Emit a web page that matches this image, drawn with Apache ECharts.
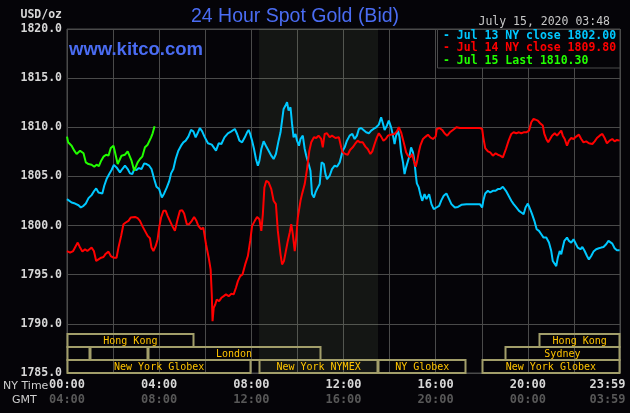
<!DOCTYPE html>
<html><head><meta charset="utf-8">
<script src="https://cdn.jsdelivr.net/npm/echarts@6.0.0/dist/echarts.min.js"></script>
<style>html,body{margin:0;padding:0;background:#050408;}#c{width:630px;height:413px;}</style>
</head><body><div id="c"></div>
<script>
// [minutes since 00:00 NY time, price]
const jul13 = [[0,1802.69],[5,1802.86],[12,1802.35],[21,1802.24],[30,1802.07],[36,1801.84],[43,1802.01],[49,1802.24],[56,1802.79],[64,1803.10],[71,1803.54],[76,1803.78],[82,1803.37],[87,1803.54],[92,1803.27],[97,1804.05],[103,1804.73],[110,1805.24],[116,1805.65],[122,1806.16],[129,1805.92],[138,1805.41],[144,1805.75],[151,1806.09],[158,1805.75],[164,1805.31],[170,1805.24],[175,1805.75],[181,1805.65],[187,1805.85],[194,1805.75],[201,1806.33],[207,1806.26],[214,1806.09],[220,1805.75],[227,1804.73],[233,1803.95],[240,1803.71],[247,1802.86],[253,1803.27],[260,1803.88],[266,1804.49],[271,1805.31],[277,1805.75],[283,1806.77],[290,1807.62],[297,1808.13],[303,1808.47],[309,1808.64],[316,1809.05],[323,1809.73],[329,1809.59],[335,1808.98],[340,1809.39],[346,1809.93],[352,1809.59],[358,1809.05],
[367,1808.37],[377,1808.23],[388,1807.62],[395,1808.37],[402,1808.30],[410,1808.98],[419,1809.39],[428,1809.59],[437,1809.83],[443,1809.32],[449,1808.64],[456,1808.47],[463,1808.98],[469,1809.49],[473,1809.73],[477,1809.32],[482,1808.64],[487,1807.79],[492,1806.77],[497,1806.09],[501,1806.60],[506,1807.79],[512,1808.57],[518,1808.13],[525,1807.62],[532,1807.11],[538,1806.77],[544,1807.28],[551,1808.64],[556,1809.49],[560,1810.68],[564,1811.87],[569,1812.21],[573,1812.55],[577,1811.70],[582,1812.04],[586,1810.34],[590,1808.98],[595,1809.32],[599,1808.64],[604,1808.13],[608,1808.81],[614,1809.15],[619,1807.79],[623,1807.11],[628,1806.43],[634,1805.58],[638,1803.20],[643,1802.86],[647,1803.37],[651,1803.71],[658,1804.22],[663,1806.43],[669,1806.26],[673,1805.24],[677,1804.73],[684,1805.07],[690,1805.75],[697,1806.09],[703,1805.99],[710,1806.43],
[718,1807.62],[723,1807.96],[729,1808.64],[736,1809.15],[743,1809.32],[749,1808.81],[755,1809.15],[760,1809.83],[766,1809.93],[772,1809.73],[779,1809.49],[786,1809.39],[792,1809.66],[798,1809.83],[805,1810.00],[812,1810.27],[818,1811.02],[823,1810.34],[827,1809.73],[833,1810.17],[838,1810.68],[844,1810.00],[849,1809.15],[853,1808.30],[857,1809.15],[862,1809.66],[866,1808.98],[870,1807.45],[875,1806.43],[879,1805.24],[883,1805.92],[888,1806.60],[892,1807.11],[896,1807.96],[901,1807.45],[905,1806.43],[908,1805.24],[911,1804.29],[916,1803.88],[920,1803.20],[925,1802.52],[931,1803.20],[936,1802.69],[943,1803.20],[949,1802.18],[955,1801.67],[962,1801.84],[969,1802.01],[975,1802.59],[981,1803.03],[988,1803.27],[995,1802.69],[1001,1802.18],[1010,1801.84],[1018,1801.90],[1027,1802.11],[1040,1802.18],[1057,1802.18],[1075,1802.18],
[1081,1801.84],[1084,1802.52],[1089,1803.27],[1096,1803.54],[1102,1803.37],[1109,1803.54],[1116,1803.54],[1122,1803.71],[1128,1803.71],[1135,1803.95],[1139,1804.05],[1143,1803.54],[1150,1803.03],[1157,1802.52],[1163,1802.18],[1170,1801.84],[1177,1801.50],[1183,1801.33],[1189,1801.16],[1194,1801.84],[1200,1802.24],[1206,1801.67],[1211,1801.16],[1217,1800.48],[1223,1799.63],[1229,1799.46],[1235,1799.12],[1241,1798.78],[1248,1798.78],[1255,1798.27],[1261,1797.41],[1265,1796.39],[1270,1796.22],[1274,1795.88],[1278,1796.73],[1283,1797.41],[1287,1797.07],[1291,1797.76],[1295,1798.44],[1302,1798.78],[1307,1798.44],[1313,1798.27],[1319,1798.61],[1324,1798.44],[1330,1797.76],[1337,1797.59],[1342,1797.82],[1348,1797.41],[1354,1796.90],[1359,1796.56],[1365,1796.90],[1371,1797.35],[1378,1797.59],[1385,1797.69],[1391,1797.76],[1397,1797.82],[1404,1798.10],[1410,1798.44],[1414,1798.50],[1420,1798.16],[1426,1797.69],[1432,1797.48],[1439,1797.48]];

const jul14 = [[0,1797.41],[8,1797.24],[16,1797.41],[23,1797.93],[28,1798.27],[34,1797.76],[40,1797.35],[47,1797.59],[53,1797.41],[58,1797.59],[64,1797.76],[70,1797.41],[76,1796.39],[82,1796.56],[89,1796.73],[95,1796.80],[101,1797.14],[108,1797.35],[114,1796.90],[121,1796.73],[129,1796.73],[134,1797.76],[141,1798.95],[147,1800.14],[153,1800.31],[160,1800.48],[166,1800.82],[170,1800.99],[177,1800.88],[184,1800.75],[190,1800.48],[196,1799.97],[203,1799.46],[210,1798.95],[216,1798.71],[220,1797.76],[225,1797.41],[231,1797.93],[236,1798.61],[240,1799.80],[245,1800.82],[251,1801.50],[257,1801.50],[262,1800.99],[268,1800.48],[274,1799.97],[281,1799.46],[288,1800.65],[294,1801.50],[300,1801.56],[305,1801.22],[312,1800.14],[318,1800.14],[325,1800.48],[331,1800.88],[337,1800.48],[342,1799.97],[349,1799.63],[355,1799.80],
[362,1798.10],[369,1796.73],[374,1795.54],[377,1793.00],[379,1790.27],[382,1791.63],[386,1791.97],[390,1792.48],[396,1792.31],[402,1792.65],[408,1792.82],[414,1793.00],[421,1792.82],[428,1793.06],[434,1793.00],[440,1793.67],[445,1794.35],[451,1794.86],[457,1795.03],[464,1796.05],[471,1796.90],[477,1798.44],[482,1799.97],[489,1800.48],[495,1800.88],[501,1800.65],[506,1799.46],[510,1801.16],[514,1803.88],[519,1804.56],[525,1804.39],[532,1803.71],[538,1802.52],[544,1802.18],[549,1799.46],[556,1797.07],[560,1796.05],[565,1796.39],[570,1796.22],[575,1798.44],[580,1799.29],[584,1800.14],[588,1799.12],[593,1797.41],[597,1798.78],[601,1800.82],[608,1802.52],[612,1803.20],[619,1804.22],[625,1805.75],[631,1807.62],[636,1808.47],[643,1808.98],[649,1808.91],[655,1809.15],[662,1808.81],[666,1807.96],[671,1809.32],[677,1809.39],[684,1808.98],[690,1809.15],[699,1808.91],[708,1808.98],
[714,1807.96],[718,1807.45],[725,1807.28],[731,1807.21],[737,1807.69],[744,1807.96],[750,1808.30],[757,1808.64],[763,1808.47],[770,1808.47],[777,1808.03],[783,1807.79],[790,1807.28],[795,1807.55],[801,1808.30],[807,1808.98],[812,1809.39],[818,1809.05],[824,1808.64],[830,1808.81],[836,1809.15],[842,1809.25],[847,1809.32],[853,1809.32],[859,1809.59],[864,1810.00],[870,1809.49],[875,1809.66],[879,1808.13],[883,1807.45],[888,1807.11],[894,1806.94],[899,1807.28],[903,1806.60],[908,1805.99],[911,1806.43],[916,1807.45],[920,1808.13],[927,1808.81],[934,1809.05],[940,1809.25],[946,1808.98],[953,1808.81],[960,1809.05],[963,1809.83],[970,1809.93],[977,1809.73],[983,1809.39],[990,1809.15],[997,1809.49],[1005,1809.73],[1014,1810.00],[1023,1809.93],[1040,1809.93],[1057,1809.93],[1075,1809.93],
[1081,1809.83],[1084,1808.98],[1089,1807.89],[1096,1807.55],[1102,1807.45],[1109,1807.11],[1116,1807.35],[1122,1807.21],[1128,1807.11],[1135,1806.94],[1139,1806.77],[1143,1807.79],[1150,1808.64],[1157,1809.32],[1163,1809.49],[1170,1809.39],[1177,1809.49],[1183,1809.39],[1189,1809.49],[1196,1809.49],[1203,1809.66],[1209,1810.51],[1215,1810.85],[1220,1811.02],[1226,1810.68],[1232,1810.41],[1239,1810.17],[1243,1809.32],[1248,1808.81],[1253,1808.47],[1258,1808.30],[1263,1809.15],[1270,1809.39],[1276,1809.15],[1281,1809.39],[1287,1809.66],[1291,1809.15],[1296,1808.81],[1302,1808.13],[1307,1808.64],[1313,1808.91],[1319,1808.81],[1326,1809.05],[1333,1809.25],[1339,1808.81],[1345,1808.47],[1352,1808.57],[1359,1808.37],[1368,1808.30],[1374,1808.57],[1380,1808.91],[1387,1809.15],[1394,1809.32],[1400,1808.91],[1406,1808.37],[1413,1808.64],[1420,1808.81],[1426,1808.57],[1432,1808.71],[1439,1808.64]];

const jul15 = [[0,1809.05],[3,1808.47],[12,1808.13],[19,1807.62],[25,1807.28],[30,1807.21],[34,1807.62],[38,1807.79],[43,1807.35],[49,1806.43],[56,1806.26],[64,1806.19],[71,1805.99],[77,1806.19],[83,1806.05],[89,1806.60],[95,1807.01],[102,1807.21],[108,1807.11],[114,1807.89],[121,1808.13],[125,1807.45],[132,1806.26],[138,1806.77],[142,1807.11],[151,1807.21],[158,1807.55],[162,1807.45],[168,1806.60],[175,1805.58],[179,1805.75],[184,1806.43],[190,1806.77],[196,1807.01],[203,1807.96],[210,1808.23],[214,1808.30],[219,1808.98],[223,1809.39],[228,1810.10]];

const seriesNames = ['Jul 13 NY close 1802.00', 'Jul 14 NY close 1809.80', 'Jul 15 Last 1810.30'];
const seriesColors = ['#00c8ff', '#ff0000', '#22ff00'];

const labelTicks = [0, 240, 480, 720, 960, 1200, 1440];
const nyLabels = ['00:00', '04:00', '08:00', '12:00', '16:00', '20:00', '23:59'];
const gmtLabels = ['04:00', '08:00', '12:00', '16:00', '20:00', '00:00', '03:59'];

const sessionNames = ['Hong Kong', 'Hong Kong', '', '', 'London', 'Sydney', 'New York Globex', 'New York NYMEX', 'NY Globex', 'New York Globex'];
const sessionStart = [0, 1230, 0, 60, 210, 1140, 0, 500, 810, 1080];
const sessionEnd   = [330, 1440, 60, 210, 660, 1440, 480, 810, 1040, 1440];
const sessionRow   = [0, 0, 1, 1, 1, 1, 2, 2, 2, 2];
const rowEdges = [1789.0, 1787.68, 1786.36, 1785.0];
const nymexShade = [500, 810];

const GRID = '#4a4a4a';
const MONO = '"DejaVu Sans Mono", "Liberation Mono", monospace';

const chart = echarts.init(document.getElementById('c'), null, {renderer: 'canvas'});

const richBase = {fontFamily: MONO, fontWeight: 'bold', fontSize: 12, lineHeight: 15};
const option = {
  backgroundColor: '#050408',
  animation: false,
  grid: {left: 67, right: 10, top: 29, bottom: 40, containLabel: false, outerBoundsMode: 'none',
    show: true, borderColor: GRID, borderWidth: 1, backgroundColor: 'transparent'},
  xAxis: {
    type: 'value', min: 0, max: 1440, interval: 120,
    axisLine: {show: false}, axisTick: {show: false},
    splitLine: {show: true, lineStyle: {color: GRID, width: 1}},
    axisLabel: {
      margin: 4, showMaxLabel: true, showMinLabel: true,
      formatter: function (v) {
        const i = labelTicks.indexOf(v);
        if (i < 0) return '';
        if (i === labelTicks.length - 1) return '{e|' + nyLabels[i] + '}\n{f|' + gmtLabels[i] + '}';
        return '{a|' + nyLabels[i] + '}\n{b|' + gmtLabels[i] + '}';
      },
      rich: {
        a: Object.assign({color: '#d8d8d8'}, richBase),
        b: Object.assign({color: '#585858'}, richBase),
        e: Object.assign({color: '#d8d8d8', padding: [0, 25, 0, 0]}, richBase),
        f: Object.assign({color: '#585858', padding: [0, 25, 0, 0]}, richBase)
      }
    }
  },
  yAxis: {
    type: 'value', min: 1785, max: 1820, interval: 5,
    axisLine: {show: false}, axisTick: {show: false},
    splitLine: {show: true, lineStyle: {color: GRID, width: 1}},
    axisLabel: {margin: 5, color: '#d8d8d8', fontFamily: MONO, fontWeight: 'bold', fontSize: 11.5,
      formatter: function (v) { return v.toFixed(1); }}
  },
  series: [
    {
      type: 'custom', silent: true, clip: false, z: 1,
      data: sessionNames.map(function (n, i) { return [sessionStart[i], sessionEnd[i], sessionRow[i]]; }),
      encode: {x: [0, 1]},
      renderItem: function (params, api) {
        const i = params.dataIndex;
        const p0 = api.coord([sessionStart[i], rowEdges[sessionRow[i]]]);
        const p1 = api.coord([sessionEnd[i], rowEdges[sessionRow[i] + 1]]);
        return {type: 'group', children: [
          {type: 'rect', shape: {x: Math.round(p0[0]) + 0.5, y: Math.round(p0[1]), width: Math.round(p1[0] - p0[0]) - 1, height: Math.round(p1[1] - p0[1])},
           style: {fill: 'none', stroke: '#a29e6a', lineWidth: 2}},
          {type: 'text', style: {text: sessionNames[i], x: (p0[0] + p1[0]) / 2, y: (p0[1] + p1[1]) / 2 + 1,
            align: 'center', verticalAlign: 'middle', fill: '#ffc400', font: '10px ' + MONO}}
        ]};
      },
      markArea: {silent: true, itemStyle: {color: 'rgba(175,213,148,0.09)'},
        data: [[{xAxis: nymexShade[0]}, {xAxis: nymexShade[1]}]]}
    },
    {name: seriesNames[0], type: 'line', data: jul13, showSymbol: false, lineStyle: {color: seriesColors[0], width: 2}, z: 3},
    {name: seriesNames[1], type: 'line', data: jul14, showSymbol: false, lineStyle: {color: seriesColors[1], width: 2}, z: 4},
    {name: seriesNames[2], type: 'line', data: jul15, showSymbol: false, lineStyle: {color: seriesColors[2], width: 2}, z: 5}
  ],
  graphic: [
    {type: 'text', z: 100, style: {text: 'USD/oz', x: 62, y: 15, align: 'right', verticalAlign: 'middle', fill: '#d8d8d8', font: 'bold 11.5px ' + MONO}},
    {type: 'text', z: 100, style: {text: '24 Hour Spot Gold (Bid)', x: 295, y: 17, align: 'center', verticalAlign: 'middle', fill: '#4a6cf2', font: '19.5px "Liberation Sans", Arial, sans-serif'}},
    {type: 'text', z: 100, style: {text: 'www.kitco.com', x: 69, y: 50, align: 'left', verticalAlign: 'middle', fill: '#4a6cf2', font: 'bold 18.5px "Liberation Sans", Arial, sans-serif'}},
    {type: 'text', z: 100, style: {text: 'July 15, 2020 03:48', x: 610, y: 22, align: 'right', verticalAlign: 'middle', fill: '#c8c8c8', font: '11.5px ' + MONO}},
    {type: 'rect', z: 100, shape: {x: 437.5, y: 29.5, width: 182.5, height: 38.5}, style: {fill: '#050408', stroke: GRID, lineWidth: 1}},
    {type: 'text', z: 101, style: {text: '- ' + seriesNames[0], x: 443, y: 36, align: 'left', verticalAlign: 'middle', fill: seriesColors[0], font: 'bold 11.5px ' + MONO}},
    {type: 'text', z: 101, style: {text: '- ' + seriesNames[1], x: 443, y: 48, align: 'left', verticalAlign: 'middle', fill: seriesColors[1], font: 'bold 11.5px ' + MONO}},
    {type: 'text', z: 101, style: {text: '- ' + seriesNames[2], x: 443, y: 61, align: 'left', verticalAlign: 'middle', fill: seriesColors[2], font: 'bold 11.5px ' + MONO}},
    {type: 'text', z: 100, style: {text: 'NY Time', x: 3, y: 386, align: 'left', verticalAlign: 'middle', fill: '#cfcfcf', font: '11px "DejaVu Sans", sans-serif'}},
    {type: 'text', z: 100, style: {text: 'GMT', x: 12, y: 400, align: 'left', verticalAlign: 'middle', fill: '#cfcfcf', font: '11px "DejaVu Sans", sans-serif'}}
  ]
};
chart.setOption(option);
</script>
</body></html>
